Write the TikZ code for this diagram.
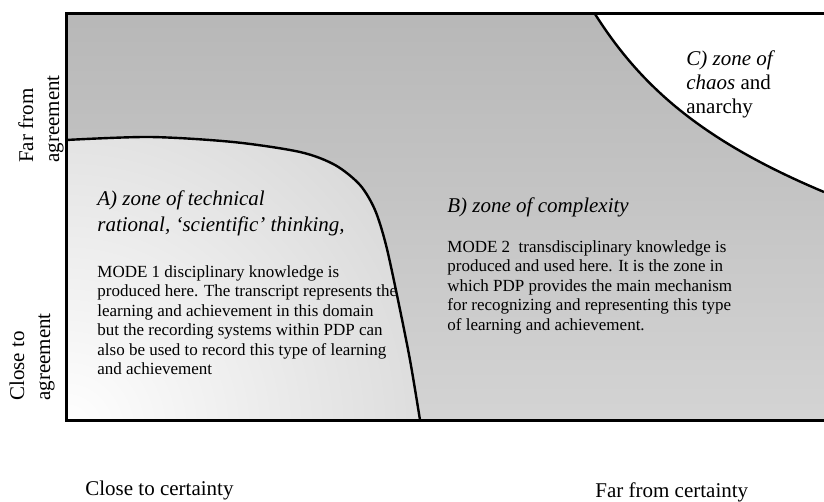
\documentclass[tikz,border=0pt]{standalone}
\usepackage{fontspec}
\setmainfont{Liberation Serif}

\tikzset{
  zonehead/.style={font=\fontsize{10.5}{13}\selectfont\itshape, align=left, anchor=west, inner sep=0pt},
  zonetext/.style={font=\fontsize{8.5}{9.75}\selectfont, align=left, anchor=west, inner sep=0pt},
  axislabel/.style={font=\fontsize{10.5}{13}\selectfont, align=left, inner sep=0pt},
  border/.style={line width=1.5pt, line join=miter},
  zoneline/.style={line width=1.2pt},
}

\begin{document}
\begin{tikzpicture}[x=0.5pt, y=-0.5pt]
    \useasboundingbox (0,0) rectangle (824,502);

    % grey background of the whole field
    \shade[top color=black!28, bottom color=black!17] (66,14) rectangle (824,420);

    % zone A, lighter towards the corner
    \begin{scope}
        \clip plot[smooth] coordinates {(66,140) (150,137) (233,142) (300,152) (335,165) (360,185) (375,210) (386,245) (398,300) (410,360) (420,420)} -- (66,420) -- cycle;
        \shade[inner color=white, outer color=black!24] (66,430) circle (640);
    \end{scope}

    % zone C is white
    \fill[white] (595,14) .. controls (640,85) and (700,140) .. (824,192) -- (824,14) -- cycle;

    % zone borders
    \draw[zoneline] plot[smooth] coordinates {(66,140) (150,137) (233,142) (300,152) (335,165) (360,185) (375,210) (386,245) (398,300) (410,360) (420,420)};
    \draw[zoneline] (595,14) .. controls (640,85) and (700,140) .. (824,192);

    % frame
    \draw[border] (824,14) -- (66,14) -- (66,420) -- (824,420);

    % zone texts
    \node[zonehead] (headA) at (97,213) {A) zone of technical\\rational, ‘scientific’ thinking,};
    \node[zonetext] (textA) at (97,320) {MODE 1 disciplinary knowledge is\\produced here. The transcript represents the\\learning and achievement in this domain\\but the recording systems within PDP can\\also be used to record this type of learning\\and achievement};
    \node[zonehead] (headB) at (447,207) {B) zone of complexity};
    \node[zonetext] (textB) at (447,287) {MODE 2\ \ transdisciplinary knowledge is\\produced and used here. It is the zone in\\which PDP provides the main mechanism\\for recognizing and representing this type\\of learning and achievement.};
    \node[zonehead, font=\fontsize{10.5}{12}\selectfont] (headC) at (686,84) {\textit{C) zone of}\\\textit{chaos} and\\anarchy};

    % axis labels
    \node[axislabel, rotate=90] (farAgree) at (41,119) {Far from\\agreement};
    \node[axislabel, rotate=90] (closeAgree) at (32,357) {Close to\\agreement};
    \node[axislabel, anchor=west] (closeCert) at (85,490) {Close to certainty};
    \node[axislabel, anchor=west] (farCert) at (595,492) {Far from certainty};
\end{tikzpicture}
\end{document}
